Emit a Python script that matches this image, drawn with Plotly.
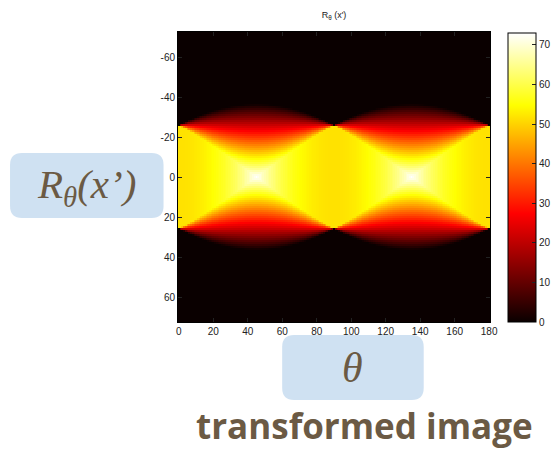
import numpy as np
import plotly.graph_objects as go

# Projection angles (degrees) and detector offsets x'
theta_deg = np.arange(0, 181, 1)
x_prime = np.arange(-72, 73, 1)

# Object being projected: a centred square, half-side in detector units
square_half_side = 25.8

# Colour limits and tick labels
z_min, z_max = 0.0, 73.0
cbar_ticks = [0, 10, 20, 30, 40, 50, 60, 70]
x_ticks = [0, 20, 40, 60, 80, 100, 120, 140, 160, 180]
y_ticks = [-60, -40, -20, 0, 20, 40, 60]
y_tick_text = ["-60", "-40", "-20", "0", "20", "40", "60"]


def square_projection(theta, t, a):
    """Line integrals of the indicator of [-a, a]^2 along direction theta."""
    th = np.deg2rad(theta)[None, :]
    tt = np.abs(t)[:, None]
    c = np.abs(np.cos(th))
    s = np.abs(np.sin(th))
    big = np.maximum(c, s)
    small = np.minimum(c, s)
    lo = a * (big - small)
    hi = a * (big + small)
    plateau = 2 * a / big
    with np.errstate(divide="ignore", invalid="ignore"):
        ramp = np.where(small > 1e-9, (hi - tt) / (c * s + 1e-300), 0.0)
    out = np.where(tt <= lo, plateau, np.where(tt < hi, ramp, 0.0))
    return np.clip(out, 0, None)


R = square_projection(theta_deg, x_prime, square_half_side)

# MATLAB-style "hot" colormap
hot = [
    [0.0, "rgb(10,0,0)"],
    [0.375, "rgb(255,0,0)"],
    [0.75, "rgb(255,255,0)"],
    [1.0, "rgb(255,255,255)"],
]

W, H = 556, 449
L, RGT, T, B = 177.5, 490.5, 32, 322  # plot-area pixel edges


def px_x(p):
    return (p - L) / (RGT - L)


def px_y(p):
    return (B - p) / (B - T)


fig = go.Figure(
    go.Heatmap(
        x=theta_deg,
        y=x_prime,
        z=R,
        zmin=z_min,
        zmax=z_max,
        colorscale=hot,
        colorbar=dict(
            x=px_x(509),
            xanchor="left",
            y=px_y(322),
            yanchor="bottom",
            len=(322 - 33) / (B - T),
            lenmode="fraction",
            thickness=28,
            thicknessmode="pixels",
            outlinecolor="black",
            outlinewidth=1,
            tickvals=cbar_ticks,
            ticks="inside",
            ticklen=4,
            tickcolor="#222",
            tickfont=dict(family="Liberation Sans, Arial, sans-serif", size=10, color="#222"),
            xpad=0,
            ypad=0,
        ),
        hoverinfo="skip",
    )
)

axis_font = dict(family="Liberation Sans, Arial, sans-serif", size=10, color="#222")
fig.update_xaxes(
    range=[-0.5, 180.5],
    tickvals=x_ticks,
    ticks="inside",
    ticklen=4,
    tickcolor="#222",
    showline=True,
    linecolor="black",
    linewidth=1,
    mirror="ticks",
    showgrid=False,
    zeroline=False,
    tickfont=axis_font,
)
fig.update_yaxes(
    range=[72.5, -72.5],
    tickvals=y_ticks,
    ticktext=y_tick_text,
    ticks="inside",
    ticklen=4,
    tickcolor="#222",
    showline=True,
    linecolor="black",
    linewidth=1,
    mirror="ticks",
    showgrid=False,
    zeroline=False,
    tickfont=axis_font,
)


def rounded_box(x0, y0, x1, y1, r):
    """Rounded rectangle path in paper coordinates from pixel corners."""
    X = lambda p: f"{px_x(p):.5f}"
    Y = lambda p: f"{px_y(p):.5f}"
    return (
        f"M {X(x0 + r)} {Y(y0)} L {X(x1 - r)} {Y(y0)} Q {X(x1)} {Y(y0)} {X(x1)} {Y(y0 + r)} "
        f"L {X(x1)} {Y(y1 - r)} Q {X(x1)} {Y(y1)} {X(x1 - r)} {Y(y1)} "
        f"L {X(x0 + r)} {Y(y1)} Q {X(x0)} {Y(y1)} {X(x0)} {Y(y1 - r)} "
        f"L {X(x0)} {Y(y0 + r)} Q {X(x0)} {Y(y0)} {X(x0 + r)} {Y(y0)} Z"
    )


box_fill = "#cfe1f2"
label_color = "#6b5a44"

fig.add_shape(type="path", xref="paper", yref="paper",
              path=rounded_box(9, 153, 163, 218, 12),
              fillcolor=box_fill, line=dict(width=0), layer="above")
fig.add_shape(type="path", xref="paper", yref="paper",
              path=rounded_box(282, 335, 424, 400, 12),
              fillcolor=box_fill, line=dict(width=0), layer="above")

serif = "Liberation Serif, Times New Roman, serif"
fig.add_annotation(
    xref="paper", yref="paper", x=px_x(86), y=px_y(187),
    text="<i>R<sub>θ</sub>(x’)</i>", showarrow=False,
    font=dict(family=serif, size=41, color=label_color),
    xanchor="center", yanchor="middle",
)
fig.add_annotation(
    xref="paper", yref="paper", x=px_x(353), y=px_y(368),
    text="<i>θ</i>", showarrow=False,
    font=dict(family=serif, size=42, color=label_color),
    xanchor="center", yanchor="middle",
)
fig.add_annotation(
    xref="paper", yref="paper", x=px_x(365), y=px_y(425),
    text="<b>transformed image</b>", showarrow=False,
    font=dict(family="Open Sans, sans-serif", size=35, color=label_color),
    xanchor="center", yanchor="middle",
)

fig.update_layout(
    width=W,
    height=H,
    margin=dict(l=L, r=W - RGT, t=T, b=H - B, autoexpand=False),
    paper_bgcolor="white",
    plot_bgcolor="white",
    title=dict(
        text="R<sub>θ</sub> (x')",
        x=(L + RGT) / 2 / W,
        xanchor="center",
        y=1 - 15 / H,
        yanchor="middle",
        font=dict(family="Liberation Sans, Arial, sans-serif", size=9, color="#222"),
    ),
    showlegend=False,
)

fig.write_html("out.html")
